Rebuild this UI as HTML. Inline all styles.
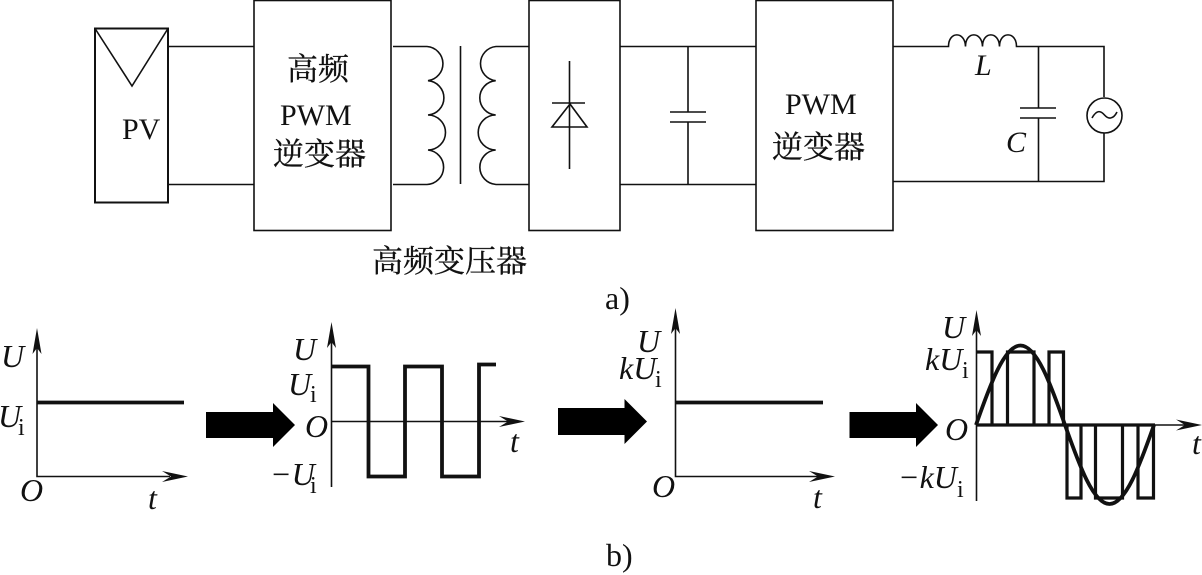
<!DOCTYPE html>
<html lang="zh"><head><meta charset="utf-8"><title>高频 PWM 逆变器</title>
<style>
html,body{margin:0;padding:0;background:#fff;width:1202px;height:575px;overflow:hidden}
svg{display:block}
text{font-family:"Liberation Serif","Noto Serif CJK SC",serif;fill:#111}
.c{font-family:"Liberation Serif","Noto Serif CJK SC",serif;font-size:31px;stroke:#111;stroke-width:.3}
.i{font-style:italic;font-size:32px}
.s{font-size:24px}
.n{font-size:30px}
.l{fill:none;stroke:#111;stroke-width:1.6}
.t{fill:none;stroke:#111;stroke-width:3.8}
</style></head><body>
<svg width="1202" height="575" viewBox="0 0 1202 575" xmlns="http://www.w3.org/2000/svg">
<defs>
<path id="up" d="M0 0L-4.500 26L0 20L4.500 26Z" fill="#111"/>
<path id="rt" d="M0 0L-26 -5.500L-17 0L-26 5.500Z" fill="#111"/>
</defs>
<!-- a) circuit -->
<g class="l">
<rect x="95" y="28.500" width="73" height="174" stroke-width="2"/>
<path d="M95 28.500L132 86L168 28.500"/>
<path d="M168 46.500H254M168 184.500H254"/>
<rect x="254" y="0.500" width="137" height="230"/>
<path d="M393 46.500H427A17.200 17.200 0 0 1 428 80.700A17.200 17.200 0 0 1 428 115A17.500 17.500 0 0 1 428 150A17.300 17.300 0 0 1 427 184.500H393"/>
<path d="M460.500 46V184"/>
<path d="M529 46.500H496A17.200 17.200 0 0 0 495.700 80.700A17.200 17.200 0 0 0 495.700 115A17.500 17.500 0 0 0 495.700 150A17.300 17.300 0 0 0 496 184.500H529"/>
<rect x="529" y="0.500" width="91" height="230"/>
<path d="M569.500 61V169M552 103H585M570 104L552 127H587Z"/>
<path d="M620 46.500H756M620 184.500H756"/>
<path d="M688 46.500V112M688 122V184.500M670 112H706M670 122H706"/>
<rect x="756" y="0.500" width="137" height="230"/>
<path d="M893 46.500H948.500C948.500 31 965 31 965.500 46.500C965.500 31 982 31 982.500 46.500C982.500 31 999 31 999.500 46.500C999.500 31 1016.500 31 1016.500 46.500H1104V97M1104 133V181.500H893"/>
<path d="M1038.500 46.500V108M1038.500 118V181.500M1020 108H1056M1020 118H1056"/>
<circle cx="1104.500" cy="115.500" r="17.500"/>
<path d="M1092 118C1097 109 1101 111 1104.500 115C1108 119 1113 120 1117 112"/>
</g>
<text class="c" x="287" y="80">高频</text>
<text class="n" x="280" y="125">PWM</text>
<text class="c" x="273" y="165">逆变器</text>
<text class="n" x="122" y="139">PV</text>
<text class="n" x="785" y="114">PWM</text>
<text class="c" x="772" y="158">逆变器</text>
<text class="c" x="372" y="272">高频变压器</text>
<text class="i" x="975" y="75" style="font-size:30px">L</text>
<text class="i" x="1006" y="152" style="font-size:30px">C</text>
<text x="605" y="309" style="font-size:32px">a)</text>
<text x="606" y="566" style="font-size:32px">b)</text>

<!-- graph 1 -->
<path class="l" d="M37 345V476.500H170"/>
<use href="#up" x="37" y="328"/><use href="#rt" x="188" y="476.500"/>
<path class="t" d="M37 402.500H184"/>
<text class="i" x="1" y="367">U</text>
<text class="i" x="-2" y="427">U</text><text class="s" x="18" y="435">i</text>
<text class="i" x="20" y="501">O</text>
<text class="i" x="148" y="509">t</text>
<path d="M206 412H273V403L295 425L273 447V438H206Z" fill="#000"/>

<!-- graph 2 -->
<path class="l" d="M331.500 340V487M331.500 421.500H510"/>
<use href="#up" x="331.500" y="322"/><use href="#rt" x="525" y="421.500"/>
<path class="t" d="M331.500 366.500H368.500V476.500H405V366.500H442V476.500H479V364.500H496"/>
<text class="i" x="293" y="360">U</text>
<text class="i" x="288" y="395">U</text><text class="s" x="310" y="402">i</text>
<text class="i" x="305" y="437">O</text>
<text class="i" x="270" y="485">−U</text><text class="s" x="310" y="493">i</text>
<text class="i" x="510" y="452">t</text>
<path d="M558 408H624.500V399L647 421.500L624.500 444V435H558Z" fill="#000"/>

<!-- graph 3 -->
<path class="l" d="M675.500 325V476.500H820"/>
<use href="#up" x="675.500" y="308"/><use href="#rt" x="835" y="476.500"/>
<path class="t" d="M676 402.500H823"/>
<text class="i" x="637" y="352">U</text>
<text class="i" x="619" y="379">kU</text><text class="s" x="655" y="387">i</text>
<text class="i" x="652" y="497">O</text>
<text class="i" x="813" y="508">t</text>
<path d="M849.500 412H916V403L938 425L916 447V438H849.500Z" fill="#000"/>

<!-- graph 4 -->
<path class="l" d="M976.500 328V501M976 425H1185"/>
<use href="#up" x="976.500" y="310"/><use href="#rt" x="1202" y="425"/>
<path class="t" style="stroke-width:3.2" d="M976 352H992V425M1007.500 425V352H1034V425M1049 425V352H1063.500V425M976 425H1155M1067 425V498H1081V425M1095.500 425V498H1122.500V425M1138 425V498H1153.500V425"/>
<path class="t" d="M976 425C990.500 383.500 1004.400 345.500 1020.500 345.500C1036.600 345.500 1050.500 383.500 1065 425C1079.500 466 1093.400 504 1109.500 504C1125.600 504 1139.500 466 1154 425"/>
<text class="i" x="942" y="338">U</text>
<text class="i" x="925" y="370">kU</text><text class="s" x="962" y="378">i</text>
<text class="i" x="945" y="440">O</text>
<text class="i" x="898" y="488">−kU</text><text class="s" x="957" y="497">i</text>
<text class="i" x="1192" y="454">t</text>
</svg>
</body></html>
